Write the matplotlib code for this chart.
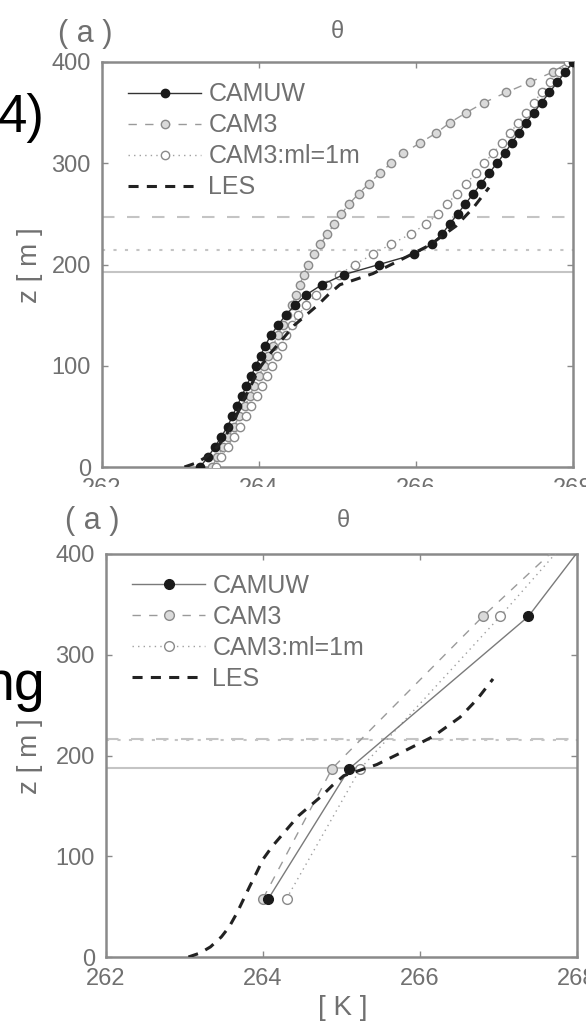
import matplotlib
matplotlib.use("Agg")
import matplotlib.pyplot as plt
from matplotlib.patches import Rectangle

plt.rcParams['font.family'] = ['Liberation Sans', 'DejaVu Sans']

# ---------------- data ----------------
series_labels = ["CAMUW", "CAM3", "CAM3:ml=1m", "LES"]
x_ticks = [262, 264, 266, 268]
y_ticks = [0, 100, 200, 300, 400]

# top panel (fine vertical resolution)
z_top = [0, 10, 20, 30, 40, 50, 60, 70, 80, 90, 100, 110, 120, 130, 140, 150,
         160, 170, 180, 190, 200, 210, 220, 230, 240, 250, 260, 270, 280, 290,
         300, 310, 320, 330, 340, 350, 360, 370, 380, 390, 400]
camuw_top = [263.25, 263.35, 263.44, 263.52, 263.60, 263.66, 263.72, 263.78,
             263.84, 263.90, 263.96, 264.02, 264.08, 264.15, 264.24, 264.34,
             264.46, 264.60, 264.80, 265.08, 265.53, 265.98, 266.20, 266.33,
             266.43, 266.53, 266.63, 266.73, 266.83, 266.93, 267.03, 267.13,
             267.22, 267.31, 267.40, 267.50, 267.60, 267.70, 267.80, 267.90,
             268.00]
cam3_top = [263.40, 263.47, 263.54, 263.61, 263.68, 263.75, 263.82, 263.88,
            263.94, 264.00, 264.06, 264.12, 264.18, 264.24, 264.30, 264.36,
            264.42, 264.47, 264.52, 264.57, 264.62, 264.70, 264.78, 264.87,
            264.96, 265.05, 265.15, 265.27, 265.40, 265.54, 265.68, 265.84,
            266.05, 266.26, 266.43, 266.64, 266.87, 267.15, 267.45, 267.74,
            267.95]
ml_top = [263.45, 263.52, 263.60, 263.68, 263.76, 263.83, 263.90, 263.97,
          264.04, 264.10, 264.17, 264.23, 264.29, 264.35, 264.42, 264.50,
          264.60, 264.72, 264.86, 265.02, 265.22, 265.45, 265.68, 265.93,
          266.13, 266.28, 266.40, 266.52, 266.64, 266.76, 266.87, 266.98,
          267.09, 267.20, 267.30, 267.40, 267.50, 267.60, 267.71, 267.82,
          267.93]
pbl_top = {"CAMUW": 193, "CAM3": 247, "CAM3:ml=1m": 214}

# bottom panel (coarse vertical resolution)
z_bot = [58, 187, 338, 500]
camuw_bot = [264.07, 265.10, 267.38, 268.97]
cam3_bot = [264.00, 264.88, 266.80, 269.03]
ml_bot = [264.30, 265.24, 267.02, 268.85]
pbl_bot = {"CAMUW": 188, "CAM3": 216, "CAM3:ml=1m": 215}

# LES reference (same in both panels)
z_les = [0, 4, 10, 20, 30, 44, 57, 70, 84, 97, 110, 120, 130, 140, 150, 160,
         170, 180, 191, 204, 219, 238, 256, 276]
t_les = [263.05, 263.20, 263.33, 263.47, 263.57, 263.67, 263.75, 263.83,
         263.92, 264.00, 264.12, 264.23, 264.34, 264.45, 264.60, 264.75,
         264.88, 265.03, 265.45, 265.79, 266.17, 266.51, 266.73, 266.93]

# ---------------- figure ----------------
W, H = 586, 1024
fig = plt.figure(figsize=(W / 100, H / 100), dpi=100)

def fx(px):
    return px / W

def fy(py):
    return 1 - py / H

gray_txt = '#707070'
spine_c = '#8a8a8a'
hl_c = '#c4c4c4'


def make_panel(rect, zc, camuw, cam3, ml, pbl, coarse):
    ax = fig.add_axes(rect)
    for z, ls in ((pbl["CAM3"], (0, (6, 6))), (pbl["CAM3:ml=1m"], (0, (1.5, 4))),
                  (pbl["CAMUW"], '-')):
        ax.axhline(z, color=hl_c, lw=1.5, linestyle=ls, zorder=1)
    ms = 7 if coarse else 6
    ax.plot(cam3, zc, color='#9a9a9a', lw=1.0, linestyle=(0, (6, 6)),
            marker='o', ms=ms, mfc='#dadada', mec='#8a8a8a', mew=1.0,
            label=series_labels[1], zorder=3)
    ax.plot(ml, zc, color='#a0a0a0', lw=1.0, linestyle=(0, (1, 3)),
            marker='o', ms=ms, mfc='white', mec='#8a8a8a', mew=1.0,
            label=series_labels[2], zorder=3)
    ax.plot(camuw, zc, color='#7a7a7a' if coarse else '#333333', lw=1.0,
            linestyle='-', marker='o', ms=ms, mfc='#1a1a1a', mec='#1a1a1a',
            label=series_labels[0], zorder=4)
    ax.plot(t_les, z_les, color='#222222', lw=2.2, linestyle=(0, (3.3, 2.7)),
            label=series_labels[3], zorder=5)
    ax.set_xlim(262, 268)
    ax.set_ylim(0, 400)
    ax.set_xticks(x_ticks)
    ax.set_yticks(y_ticks)
    ax.tick_params(direction='in', length=4, width=1, colors=spine_c,
                   labelcolor=gray_txt, labelsize=17, pad=8,
                   top=True, right=True)
    for s in ax.spines.values():
        s.set_color(spine_c)
        s.set_linewidth(1.8)
    h, l = ax.get_legend_handles_labels()
    order = [l.index(s) for s in series_labels]
    leg = ax.legend([h[i] for i in order], [l[i] for i in order],
                    loc='upper left', bbox_to_anchor=(0.056, 0.95),
                    frameon=False, fontsize=18, handlelength=2.9,
                    handletextpad=0.3, labelspacing=0.28, borderpad=0,
                    borderaxespad=0)
    for t in leg.get_texts():
        t.set_color(gray_txt)
    return ax


ax1 = make_panel([fx(102), fy(467), fx(573) - fx(102), fy(62) - fy(467)],
                 z_top, camuw_top, cam3_top, ml_top, pbl_top, False)
ax2 = make_panel([fx(106), fy(957), fx(577) - fx(106), fy(554) - fy(957)],
                 z_bot, camuw_bot, cam3_bot, ml_bot, pbl_bot, True)

# mask cutting off the top panel's tick labels (cropped scan)
fig.patches.append(Rectangle((0, fy(503)), 1, fy(487) - fy(503),
                             transform=fig.transFigure, facecolor='white',
                             edgecolor='none', zorder=10))

# panel annotations
for (ax_x, ax_y, th_x, th_y, zl_y) in ((85, 34, 337, 32, 265),
                                        (92, 521, 343, 521, 756)):
    fig.text(fx(ax_x), fy(ax_y), '( a )', fontsize=22, color=gray_txt,
             ha='center', va='center')
    fig.text(fx(th_x), fy(th_y), 'θ', fontsize=17, color=gray_txt,
             ha='center', va='center')
    fig.text(fx(30), fy(zl_y), 'z [ m ]', fontsize=20, color=gray_txt,
             ha='center', va='center', rotation=90)
fig.text(fx(343), fy(1008), '[ K ]', fontsize=20, color=gray_txt,
         ha='center', va='center')

# cut-off text from neighbouring page content
fig.text(fx(45), fy(132), '4)', fontsize=38, color='black', ha='right',
         va='baseline')
fig.text(fx(45), fy(700), 'ng', fontsize=40, color='black', ha='right',
         va='baseline')

fig.savefig('out.png', dpi=100)
